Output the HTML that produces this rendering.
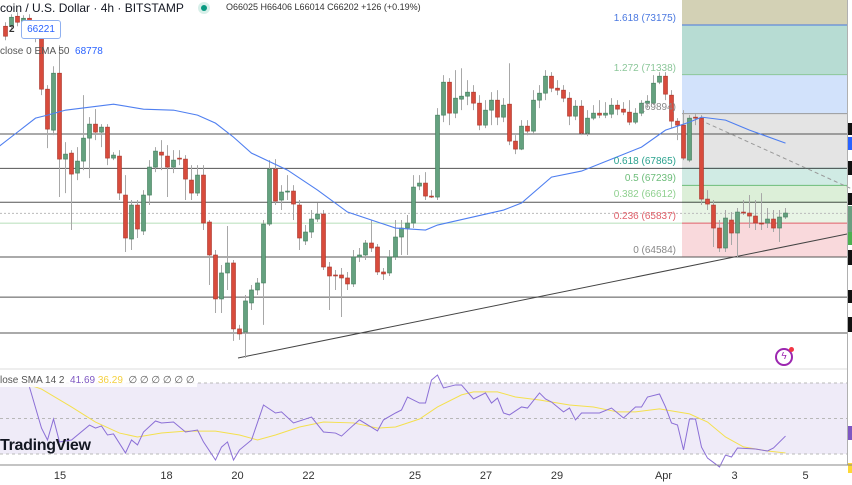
<!DOCTYPE html>
<html><head><meta charset="utf-8">
<style>
html,body{margin:0;padding:0;background:#fff;overflow:hidden}
svg{display:block;font-family:"Liberation Sans",sans-serif}
</style></head>
<body>
<svg id="chart" width="852" height="485" viewBox="0 0 852 485" xmlns="http://www.w3.org/2000/svg"></svg>
<script>
// ---- data ----
const opens=[73131,73131,73501,73205,73427,72983,72687,70800,69283,71392,68210,68432,67692,68136,68987,69505,69209,69394,68247,68321,66878,65250,66508,65546,66878,67914,68469,68321,67914,68247,68210,67433,66952,67618,65879,64658,63030,63992,64362,61920,61809,62882,63363,63622,65805,67840,66693,66989,67026,66508,65176,65509,65990,66175,64214,63918,63918,63807,63585,64584,64658,65102,64954,64029,63992,64584,65324,65657,65842,67211,67322,66841,66804,69838,71059,69912,70430,70541,70689,70282,69468,70023,70393,69764,70245,68876,68580,69431,69246,70393,70652,71281,70837,70763,70467,69801,70171,69172,69727,69912,69838,69875,70208,70060,69949,69579,69912,70282,70282,71059,71281,70578,69616,69468,68173,69764,69727,66730,66508,65657,64917,65953,65472,66249,66212,66101,65842,65842,65990,65657,66064];
const closes=[72761,73464,73279,73427,72983,72687,70800,69320,71392,68210,68395,67655,68136,68987,69505,69209,69394,68247,68358,66952,65287,66508,65620,66878,67914,68506,68358,67914,68173,68210,67470,66952,67618,65842,64658,63030,63992,64362,61920,61735,62956,63363,63622,65805,67840,66656,66989,67026,66545,65287,65509,65990,66175,64214,63881,63881,63807,63585,64584,64658,65102,64917,64029,63955,64584,65324,65657,65842,67174,67322,66841,66804,69838,71059,69912,70467,70541,70689,70282,69468,70023,70393,69764,70208,68876,68580,69431,69246,70393,70652,71281,70837,70763,70467,69801,70171,69172,69727,69912,69838,69912,70208,70060,69949,69579,69912,70282,70356,71022,71281,70615,69616,69468,68247,69727,69727,66730,66545,65657,64917,66027,65472,66249,66212,66101,65842,65830,65990,65657,66064,66212];
const highs=[73279,73575,73649,73538,73575,73131,72798,70948,71651,72428,68839,68543,68654,70578,69764,70060,69505,69505,68469,68543,67618,66693,66693,67063,68173,68654,68913,68728,68543,68543,68358,67988,67988,67988,65953,64843,64288,65731,64473,62068,63178,63548,63807,65953,68173,68210,67248,67618,67248,66693,65768,66323,66582,66323,64399,64103,64177,64029,64843,64917,65213,65953,65065,64177,64843,65953,65953,66138,67618,67618,67729,67063,70097,71318,71207,71503,71577,71133,70948,70578,70393,70689,70763,70467,71762,69098,69653,69653,70763,70948,71503,71429,71133,70948,70689,70393,70393,70023,70208,70393,70319,70467,70393,70319,70393,70097,70393,70578,71318,71429,71429,70763,69727,70023,69838,69875,69838,67063,66693,65953,66323,66249,66397,66693,66878,66693,66952,66397,66323,66323,66397];
const lows=[72613,72983,73131,73057,72835,72539,70578,68617,69098,66804,66952,65583,67433,67803,67507,68913,68654,67988,68173,66693,64769,64843,65287,65398,66508,67729,67803,66804,67692,67988,66693,66693,66841,65583,63548,62512,62512,63363,61476,61513,60847,62623,63178,62068,65731,66508,66323,66693,65953,64843,65028,65287,65879,64103,62623,63363,62364,63363,63474,64399,64473,64769,63918,63733,63881,64473,64658,64658,65657,67063,66693,66767,66693,69579,69468,69727,70023,70208,70023,69283,69357,69468,69468,69579,68728,68395,68543,69098,69172,70097,70393,70689,70578,70319,69468,69653,69098,69061,69653,69727,69727,69727,69838,69838,69468,69505,69801,70097,70208,70985,70393,69357,68913,68173,68099,69468,66508,66323,64954,64769,64769,65028,64547,66138,65657,65583,65583,65657,65509,65139,65990];
const emaIdx=[-1,2,5,7,10,18,23,28,32,35,38,41,47,52,57,65,70,72,83,86,91,96,101,106,110,114,116,120,124,130];
const emaVal=[68691,69209,69727,69838,70023,70245,70060,70023,69838,69542,69024,68432,67803,67063,66249,65657,65583,65768,66323,66582,67544,67766,68210,68654,69283,69579,69764,69653,69283,68802];
const rsiIdx=[4,6,7,8,9,11,14,15,16,17,18,20,21,22,23,25,26,28,30,32,33,35,36,37,38,39,41,43,45,46,48,51,53,55,56,58,59,62,63,65,66,67,69,70,71,72,73,75,76,78,80,81,82,83,84,86,87,89,90,91,93,94,95,96,99,101,103,105,106,107,109,110,111,112,113,114,115,116,117,119,120,121,122,125,127,128,130];
const rsiVal=[67.7,44.6,37.9,49.7,36.8,37.9,46.3,44.6,45.8,40.7,41.3,30.6,37.9,35.1,42.4,48.6,47.5,48.0,42.4,43.5,36.8,26.6,33.9,36.8,26.6,32.3,37.9,57.6,53.1,53.7,47.5,50.8,42.4,41.8,40.1,46.3,49.2,43.0,49.2,53.1,54.8,62.1,58.7,58.7,71.7,74.5,67.2,68.9,68.9,61.0,64.4,58.7,61.5,53.1,52.0,56.5,55.9,64.4,61.0,59.3,53.7,55.9,49.2,53.1,53.1,55.9,50.3,56.5,56.5,62.1,63.8,56.5,47.5,46.3,32.3,49.7,49.7,33.9,27.7,22.7,29.4,28.3,33.4,32.8,31.7,33.4,40.1];
const smaIdx=[4,6,11,15,19,22,26,30,35,39,42,45,49,53,58,62,65,69,72,76,78,82,85,89,94,98,102,105,109,114,117,120,123,127,130];
const smaVal=[68.9,66.6,56.5,48.0,41.8,39.6,41.8,42.9,42.9,40.7,37.9,40.7,45.2,48.0,47.5,44.6,45.2,49.7,56.5,63.3,65.0,65.0,62.1,60.4,57.6,56.5,53.7,53.7,55.4,52.6,48.0,39.6,34.0,31.7,30.6];
const dateLabels=["15","18","20","22","25","27","29","Apr","3","5"];
const dateDays=[0,3,5,7,10,12,14,17,19,21];
const fibLabels=["1.618 (73175)","1.272 (71338)","(69894)","0.618 (67865)","0.5 (67239)","0.382 (66612)","0.236 (65837)","0 (64584)"];
const fibPrices=[73175,71338,69894,67865,67239,66612,65837,64584];
const supportPrices=[69140,67865,66612,64584,63100,61770];

// ---- axes ----
const X=i=>5.5+6*i;
const Y=p=>257-(p-64584)*0.027;
const RY=v=>383+(70-v)*1.775;
const DX=d=>60+35.5*d;

const svg=document.getElementById('chart');
const NS='http://www.w3.org/2000/svg';
function mk(tag,attrs,parent){const e=document.createElementNS(NS,tag);for(const k in attrs)e.setAttribute(k,attrs[k]);(parent||svg).appendChild(e);return e;}

const zoneColors=["#d3d1b5","#b7dcd3","#d2e2fb","#e4e4e4","#d0ebe4","#dcefd8","#e8f4e5","#f9d9dc"];
const lineColors=["#4a78e0","#8cc79a","#9a9a9a","#2aa28e","#6dbd7a","#8fd08f","#e0606a","#777"];
const zoneTops=[0].concat(fibPrices.map(Y));
for(let k=0;k<8;k++){
  const r=mk('rect',{x:682,y:zoneTops[k],width:165,height:zoneTops[k+1]-zoneTops[k],fill:zoneColors[k]});
  
  
}
for(let k=0;k<8;k++){
  const l=mk('line',{x1:682,x2:847,y1:Y(fibPrices[k]),y2:Y(fibPrices[k]),stroke:lineColors[k],'stroke-width':1});
  
  
}
const cur=mk('line',{x1:0,x2:847,y1:Y(66202),y2:Y(66202),stroke:'#bbb','stroke-dasharray':'2,2'});


const gl=mk('line',{x1:0,x2:682,y1:Y(65837),y2:Y(65837),stroke:'#bfe3c2','stroke-width':1.2});


supportPrices.forEach(p=>{
  const l=mk('line',{x1:0,x2:847,y1:Y(p),y2:Y(p),stroke:'#555','stroke-width':1});
  
  
});
const tl=mk('line',{x1:238,y1:358,x2:852,y2:233,stroke:'#444','stroke-width':1});


const dl=mk('line',{x1:700,y1:120,x2:852,y2:189,stroke:'#999','stroke-dasharray':'4,3'});



for(let i=0;i<opens.length;i++){
  const up=closes[i]>=opens[i];
  const x=X(i);
  const w=mk('line',{x1:x,x2:x,y1:Y(highs[i]),y2:Y(lows[i]),stroke:'#a8a8a8','stroke-width':1});
  
  
  const t=Y(Math.max(opens[i],closes[i])),b=Y(Math.min(opens[i],closes[i]));
  const r=mk('rect',{x:x-2,y:t,width:4,height:Math.max(1,b-t),fill:up?'#64a17f':'#d84b3c',stroke:up?'#3e7a58':'#a8342a','stroke-width':0.6});
  
  
}
const ema=mk('polyline',{points:emaIdx.map((k,j)=>X(k)+','+Y(emaVal[j])).join(' '),fill:'none',stroke:'#4f7ff0','stroke-width':1.1});



const vl=mk('line',{x1:847.5,x2:847.5,y1:0,y2:465,stroke:'#b0b0b0'});


[[123,12,'#111'],[137,13,'#2962ff'],[161,14,'#111'],[193,12,'#111'],[206,26,'#6a9e80'],[232,13,'#4caf50'],[250,15,'#111'],[290,13,'#111'],[317,15,'#111'],[426,14,'#7e57c2'],[463,10,'#fdd835']].forEach(m=>{
  const r=mk('rect',{x:848,y:m[0],width:4,height:m[1],fill:m[2]});
  
  
});

const fibText=["#4a78e0","#8cc79a","#888","#2aa28e","#6dbd7a","#8fd08f","#e0606a","#888"];
const fibY=[17,67,106,160,177,193,215,249];
fibLabels.forEach((s,k)=>{
  const t=mk('text',{x:676,y:fibY[k]+4,'text-anchor':'end','font-size':10,fill:fibText[k]});
  t.textContent=s;
  
  
});

const sep=mk('line',{x1:0,x2:847,y1:369,y2:369,stroke:'#ddd'});


const band=mk('rect',{x:0,y:RY(70),width:847,height:RY(30)-RY(70),fill:'#efebf8'});


[70,50,30].forEach(v=>{
  const l=mk('line',{x1:0,x2:847,y1:RY(v),y2:RY(v),stroke:'#b8b8b8','stroke-dasharray':'3,3'});
  
  
});
const sma=mk('polyline',{points:smaIdx.map((k,j)=>X(k)+','+RY(smaVal[j])).join(' '),fill:'none',stroke:'#f4e04d','stroke-width':1});


const rsi=mk('polyline',{points:rsiIdx.map((k,j)=>X(k)+','+RY(rsiVal[j])).join(' '),fill:'none',stroke:'#8b6fd6','stroke-width':1});



const ax=mk('line',{x1:0,x2:852,y1:465,y2:465,stroke:'#888'});


dateLabels.forEach((s,k)=>{
  const t=mk('text',{x:DX(dateDays[k]),y:479,'text-anchor':'middle','font-size':11,fill:'#333'});
  t.textContent=s;
  
  
});
</script>
<div style="position:absolute;left:0;top:0;width:852px;height:485px;pointer-events:none;font-family:'Liberation Sans',sans-serif">
  <div style="position:absolute;left:0;top:1px;font-size:12px;color:#131722;white-space:nowrap">coin / U.S. Dollar · 4h · BITSTAMP</div>
  <div style="position:absolute;left:198px;top:2px;width:12px;height:12px;border-radius:50%;background:#d7efe9"><div style="margin:3px;width:6px;height:6px;border-radius:50%;background:#089981"></div></div>
  <div style="position:absolute;left:226px;top:2px;font-size:9px;color:#333;white-space:nowrap">O66025 H66406 L66014 C66202 +126 (+0.19%)</div>
  <div style="position:absolute;left:9px;top:24px;font-size:10px;font-weight:bold;color:#333">2</div>
  <div style="position:absolute;left:21px;top:20px;width:38px;height:17px;border:1px solid #8fb0f0;border-radius:3px;background:#fff;color:#2962ff;font-size:10px;line-height:17px;text-align:center">66221</div>
  <div style="position:absolute;left:0;top:46px;font-size:10px;color:#555;white-space:nowrap">close 0 EMA 50 &nbsp;<span style="color:#2962ff">68778</span></div>
  <div style="position:absolute;left:0;top:375px;font-size:10px;color:#555;white-space:nowrap;background:rgba(255,255,255,0.85);padding:0 2px 1px 0">lose SMA 14 2 &nbsp;<span style="color:#7e57c2">41.69</span> <span style="color:#f4d03f">36.29</span> &nbsp;∅ ∅ ∅ ∅ ∅ ∅</div>
  <div style="position:absolute;left:0;top:437px;font-size:16px;font-weight:bold;color:#131722;letter-spacing:-0.3px">TradingView</div>
  <div style="position:absolute;left:775px;top:348px;width:14px;height:14px;border:2px solid #9c27b0;border-radius:50%;color:#9c27b0;font-size:10px;line-height:14px;text-align:center">ϟ<div style="position:absolute;right:-3px;top:-3px;width:5px;height:5px;border-radius:50%;background:#f23645"></div></div>
</div>
</body></html>
